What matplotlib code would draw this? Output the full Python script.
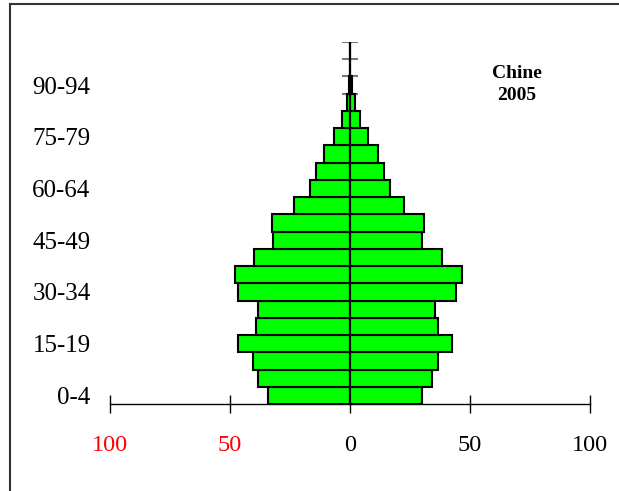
import numpy as np
import matplotlib
matplotlib.use('Agg')
import matplotlib.pyplot as plt
from matplotlib.lines import Line2D

plt.rcParams['font.family'] = ['Liberation Serif', 'DejaVu Serif']

# age groups, bottom to top
ages = ['0-4', '5-9', '10-14', '15-19', '20-24', '25-29', '30-34', '35-39',
        '40-44', '45-49', '50-54', '55-59', '60-64', '65-69', '70-74',
        '75-79', '80-84', '85-89', '90-94', '95-99', '100+']
# population (millions)
hommes = [34.1, 38.3, 40.6, 46.6, 39.1, 38.3, 46.6, 48.1, 39.9, 32.1, 32.4,
          23.4, 16.8, 14.1, 10.9, 6.8, 3.5, 1.2, 0.5, 0.0, 0.0]
femmes = [29.8, 34.0, 36.5, 42.6, 36.5, 35.6, 44.1, 46.6, 38.2, 29.8, 30.8,
          22.4, 16.8, 14.1, 11.6, 7.3, 4.1, 1.9, 1.0, 0.0, 0.0]
xticks = [-100, -50, 0, 50, 100]
xlabels = ['100', '50', '0', '50', '100']
xcolors = ['red', 'red', 'black', 'black', 'black']
shown = [0, 3, 6, 9, 12, 15, 18]

W, H = 619, 491
fig = plt.figure(figsize=(W / 100, H / 100), dpi=100)
ax = fig.add_axes([110 / W, (H - 404) / H, 480 / W, 362 / H])

y = np.arange(len(ages)) + 0.5

# small gray ticks on the vertical axis (group boundaries)
ax.hlines(np.arange(len(ages) + 1), -3.5, 3.5, color='#777777', lw=1.5, zorder=1)

ax.barh(y, [-v for v in hommes], height=1, color='#00ff00', edgecolor='black',
        lw=1.5, zorder=2)
ax.barh(y, femmes, height=1, color='#00ff00', edgecolor='black', lw=1.5, zorder=2)
ax.axvline(0, color='black', lw=1.5, zorder=3)

ax.set_xlim(-100, 100)
ax.set_ylim(0, len(ages))

for s in ['top', 'right', 'left']:
    ax.spines[s].set_visible(False)
ax.spines['bottom'].set_linewidth(1.0)

ax.set_xticks(xticks)
ax.set_xticklabels(xlabels, fontsize=17.5)
for lab, c in zip(ax.get_xticklabels(), xcolors):
    lab.set_color(c)
ax.tick_params(axis='x', direction='inout', length=13, width=1, pad=16)

ax.set_yticks([y[i] for i in shown])
ax.set_yticklabels([ages[i] for i in shown], fontsize=18)
ax.tick_params(axis='y', length=0, pad=14)

fig.text(517 / W, 1 - 73 / H, 'Chine', ha='center', va='center',
         fontsize=14, fontweight='bold')
fig.text(517 / W, 1 - 96 / H, '2005', ha='center', va='center',
         fontsize=14, fontweight='bold')

# frame
fig.add_artist(Line2D([9.5 / W, 1], [1 - 4 / H, 1 - 4 / H], color='#333333', lw=1.5))
fig.add_artist(Line2D([9.5 / W, 9.5 / W], [0, 1 - 4 / H], color='#333333', lw=1.5))

fig.savefig('out.png', dpi=100)
